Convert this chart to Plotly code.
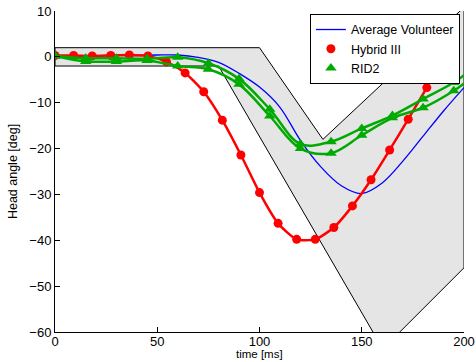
import plotly.graph_objects as go

# Corridor (upper bound left-to-right, then lower bound right-to-left)
corridor_t = [0, 100, 131, 200, 200, 160.3, 80, 0, 0]
corridor_deg = [2, 2, -18, 10.8, -46, -63.7, -2, -2, 2]

# Average volunteer response
vol_t = [0, 10, 20, 30, 40, 50, 60, 70, 80, 90, 100, 110, 120, 130, 140, 150, 160, 170, 180, 190, 200]
vol_deg = [0, 0.1, 0.2, 0.3, 0.3, 0.4, 0.4, -0.1, -1.2, -3.6, -6.6, -11.0, -18.2, -24.0, -28.1,
           -29.8, -27.5, -22.8, -17.3, -11.8, -6.7]

# Hybrid III dummy
h3_t = [0, 9.09, 18.18, 27.27, 36.36, 45.45, 54.55, 63.64, 72.73, 81.82, 90.91, 100.0,
        109.09, 118.18, 127.27, 136.36, 145.45, 154.55, 163.64, 172.73, 181.82]
h3_deg = [0.3, 0.3, 0.2, 0.3, 0.4, 0.2, -1.1, -3.5, -7.6, -13.8, -21.4, -29.6,
          -36.3, -39.8, -39.8, -37.2, -32.5, -26.8, -20.3, -13.6, -6.7]

# RID2 dummy, two tests
rid_t = [0, 15, 30, 45, 60, 75, 90, 105, 120, 135, 150, 165, 180, 195, 200]
rid_a_deg = [0.2, -0.3, -0.3, -0.4, -0.1, -1.4, -4.8, -11.4, -19.0, -18.5, -15.6, -12.8, -9.2, -5.6, -4.0]
rid_b_deg = [0.2, -1.0, -1.0, -0.8, -2.0, -2.7, -6.0, -12.9, -20.0, -21.0, -17.1, -13.3, -11.1, -7.4, -5.8]

BLUE = "#0000ff"
RED = "#ff0000"
GREEN = "#00aa00"
FONT = "Liberation Sans, Arial, Helvetica, sans-serif"

fig = go.Figure()

fig.add_trace(go.Scatter(
    x=corridor_t, y=corridor_deg, mode="lines", fill="toself",
    fillcolor="#e5e5e5", line=dict(color="black", width=1),
    showlegend=False, hoverinfo="skip"))

fig.add_trace(go.Scatter(
    x=vol_t, y=vol_deg, mode="lines", name="Average Volunteer",
    line=dict(color=BLUE, width=1.3, shape="spline")))

fig.add_trace(go.Scatter(
    x=h3_t, y=h3_deg, mode="lines", showlegend=False,
    line=dict(color=RED, width=2.5, shape="spline", smoothing=0.6)))
fig.add_trace(go.Scatter(
    x=h3_t, y=h3_deg, mode="markers", name="Hybrid III",
    marker=dict(color=RED, size=9, symbol="circle")))

for i, ys in enumerate([rid_a_deg, rid_b_deg]):
    fig.add_trace(go.Scatter(
        x=rid_t, y=ys, mode="lines", showlegend=False,
        line=dict(color=GREEN, width=2.5, shape="spline")))
    fig.add_trace(go.Scatter(
        x=rid_t[:-1], y=ys[:-1], mode="markers", name="RID2",
        showlegend=(i == 0),
        marker=dict(color=GREEN, size=10, symbol="triangle-up")))

axis_common = dict(
    showline=True, linecolor="black", linewidth=1,
    ticks="inside", ticklen=5, tickcolor="black", tickwidth=1,
    showgrid=False, zeroline=False, mirror=False, automargin=False,
    tickfont=dict(family=FONT, size=13, color="black"),
)

fig.update_xaxes(range=[0, 200], dtick=50, tick0=0, ticklabelstandoff=-3,
                 **axis_common)
fig.update_yaxes(range=[-60, 10], dtick=10, tick0=0,
                 title=dict(text="Head angle [deg]", standoff=8,
                            font=dict(family=FONT, size=12.5, color="black")),
                 **axis_common)

# x-axis title placed just under the tick labels
fig.add_annotation(text="time [ms]", xref="paper", yref="paper", x=0.5, y=0,
                   xanchor="center", yanchor="top", yshift=-15, showarrow=False,
                   borderpad=0, font=dict(family=FONT, size=11.5, color="black"))

fig.update_layout(
    width=476, height=362,
    margin=dict(l=55, r=12, t=11, b=30),
    paper_bgcolor="white", plot_bgcolor="white",
    legend=dict(x=0.99, y=0.991, xanchor="right", yanchor="top",
                bgcolor="white", bordercolor="black", borderwidth=1,
                font=dict(family=FONT, size=12.5, color="black"),
                tracegroupgap=0),
    showlegend=True,
)

fig.write_html("out.html")
